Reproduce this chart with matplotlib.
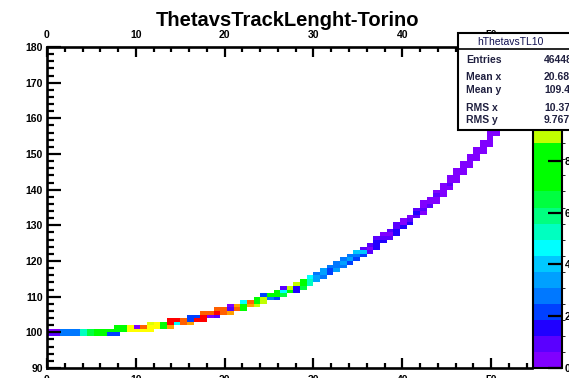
import numpy as np
import matplotlib
matplotlib.use("Agg")
import matplotlib.pyplot as plt
from matplotlib.colors import ListedColormap, BoundaryNorm
from matplotlib.patches import Rectangle
from matplotlib.lines import Line2D
from matplotlib.ticker import MultipleLocator

plt.rcParams['font.family'] = ['Liberation Sans', 'DejaVu Sans']

# 2D histogram: theta (x, 0.75 deg bins) vs track length (y, 1 unit bins)
# each column: lowest filled y bin and the bin contents going up
col_ylo = [99, 99, 99, 99, 99, 99, 99, 99, 99, 99,
           99, 100, 100, 100, 100, 100, 101, 101, 101, 102,
           102, 102, 103, 103, 104, 104, 105, 105, 106, 106,
           107, 107, 108, 109, 109, 110, 111, 111, 112, 113,
           114, 115, 116, 117, 118, 119, 120, 121, 122, 123,
           125, 126, 127, 129, 130, 132, 133, 135, 136, 138,
           140, 142, 144, 146, 148, 150, 152, 155, 157, 160,
           163, 166, 169]
col_counts = [
    [9, 3], [9, 3], [28, 28], [28, 28], [28, 28],
    [52, 52], [65, 65], [71, 71], [71, 71], [22, 71],
    [22, 71, 71], [71, 71], [102, 102], [102, 3], [102, 115],
    [102, 102, 96], [102, 102], [77, 71], [108, 121, 121], [46, 121],
    [115, 115], [108, 22, 22], [121, 22], [121, 121, 115], [3, 115],
    [9, 121, 115], [115, 115], [108, 9, 3], [115, 108], [71, 71, 46],
    [108, 115], [90, 71, 71], [90, 90, 22], [28, 71], [22, 71, 71],
    [65, 46, 9], [71, 90], [15, 15, 90], [65, 71, 71], [52, 52, 46],
    [34, 34, 28], [28, 34, 34], [22, 22, 28], [34, 28, 28], [28, 34, 28],
    [22, 34, 28], [22, 28, 40], [22, 40, 9], [9, 3, 9], [15, 15, 15, 9],
    [15, 9, 3], [9, 3, 9], [15, 15, 9, 9], [15, 3, 3], [15, 9, 3],
    [9, 15, 9], [3, 9, 3, 3], [9, 3, 3], [3, 3, 9, 3], [3, 3, 3, 3],
    [3, 9, 3, 3], [3, 3, 3, 3], [3, 3, 3, 3], [3, 3, 3, 3], [3, 3, 3, 3],
    [3, 3, 3, 3], [3, 3, 3, 3, 3], [3, 3, 3, 3], [3, 3, 3, 3, 3], [3, 3, 3, 3, 3],
    [3, 3, 3, 3, 3], [3, 3, 3, 3, 3], [3, 3, 3, 3, 3],
]

stat_names = ["Entries", "Mean x", "Mean y", "RMS x", "RMS y"]
stat_values = ["46448", "20.68", "109.4", "10.37", "9.767"]

x_edges = np.arange(74) * 0.75
y_edges = np.arange(90, 181)
z = np.zeros((len(y_edges) - 1, len(x_edges) - 1))
for i, (ylo, counts) in enumerate(zip(col_ylo, col_counts)):
    for j, c in enumerate(counts):
        z[ylo - 90 + j, i] = c
z = np.ma.masked_equal(z, 0)

# 20-level rainbow palette, violet -> red
palette = ['#8000ff', '#5a00ff', '#2000ff', '#0040ff', '#0078ff',
           '#00a0ff', '#00c8ff', '#00ffff', '#00ffc0', '#00ff80',
           '#00ff40', '#00ff00', '#00ff00', '#00ff00', '#c0ff00',
           '#e0ff00', '#ffff00', '#ffa000', '#ff6000', '#ff0000']
zmax = 124
cmap = ListedColormap(palette)
norm = BoundaryNorm(np.linspace(0, zmax, 21), cmap.N)

W, H = 569, 378
fig = plt.figure(figsize=(W / 100, H / 100), dpi=100)
ax = fig.add_axes([47 / W, 10 / H, 485 / W, 321 / H])
cax = fig.add_axes([533 / W, 10 / H, 29 / W, 321 / H])

mesh = ax.pcolormesh(x_edges, y_edges, z, cmap=cmap, norm=norm)
ax.set_xlim(0, 54.6)
ax.set_ylim(90, 180)

ax.xaxis.set_major_locator(MultipleLocator(10))
ax.xaxis.set_minor_locator(MultipleLocator(2))
ax.yaxis.set_major_locator(MultipleLocator(10))
ax.yaxis.set_minor_locator(MultipleLocator(2))
ax.tick_params(axis='x', which='both', direction='in', top=True, bottom=True,
               labeltop=True, labelbottom=True, width=1.6)
ax.tick_params(axis='x', which='major', length=7, labelsize=7.5)
ax.tick_params(axis='x', which='minor', length=3.5)
ax.tick_params(axis='y', which='both', direction='in', right=False, width=1.6)
ax.tick_params(axis='y', which='major', length=10, pad=3, labelsize=7.5)
ax.tick_params(axis='y', which='minor', length=5)
for lab in ax.get_xticklabels() + ax.get_yticklabels():
    lab.set_fontweight('bold')
for side in ['left', 'bottom', 'top']:
    ax.spines[side].set_linewidth(1.9)
ax.spines['right'].set_visible(False)
# labels sit just outside the axis line (ticks point inward)
for t in ax.xaxis.get_major_ticks():
    t.set_pad(5.0)

cb = fig.colorbar(mesh, cax=cax, ticks=np.arange(0, 121, 20))
cb.outline.set_linewidth(1.5)
cax.tick_params(direction='in', length=10, width=1.6, pad=2, labelsize=7.5,
                left=False, right=True)
for lab in cax.get_yticklabels():
    lab.set_fontweight('bold')

fig.text(287 / W, 1 - 20 / H, "ThetavsTrackLenght-Torino", ha='center',
         va='center', fontsize=14.5, fontweight='bold')

# statistics box (overlaps the top right corner)
x0, y0, y1 = 458 / W, 1 - 130 / H, 1 - 33 / H
fig.add_artist(Rectangle((x0, y0), 0.5, y1 - y0, transform=fig.transFigure,
                         facecolor='white', edgecolor='black', lw=1.5,
                         zorder=10))
fig.add_artist(Line2D([x0, 1.2], [1 - 49 / H] * 2, transform=fig.transFigure,
                      color='black', lw=1.2, zorder=11))
fig.text(477 / W, 1 - 42 / H, "hThetavsTL10", fontsize=7.5, va='center',
         color='#101050', zorder=12)
stat_rows = [60, 77, 90, 108, 120]
for name, val, row in zip(stat_names, stat_values, stat_rows):
    fig.text(466 / W, 1 - row / H, name, fontsize=7.5, va='center',
             fontweight='bold', color='#202040', zorder=12)
    fig.text(544 / W, 1 - row / H, val, fontsize=7.5, va='center',
             fontweight='bold', color='#202040', zorder=12)

fig.savefig("out.png", dpi=100)
